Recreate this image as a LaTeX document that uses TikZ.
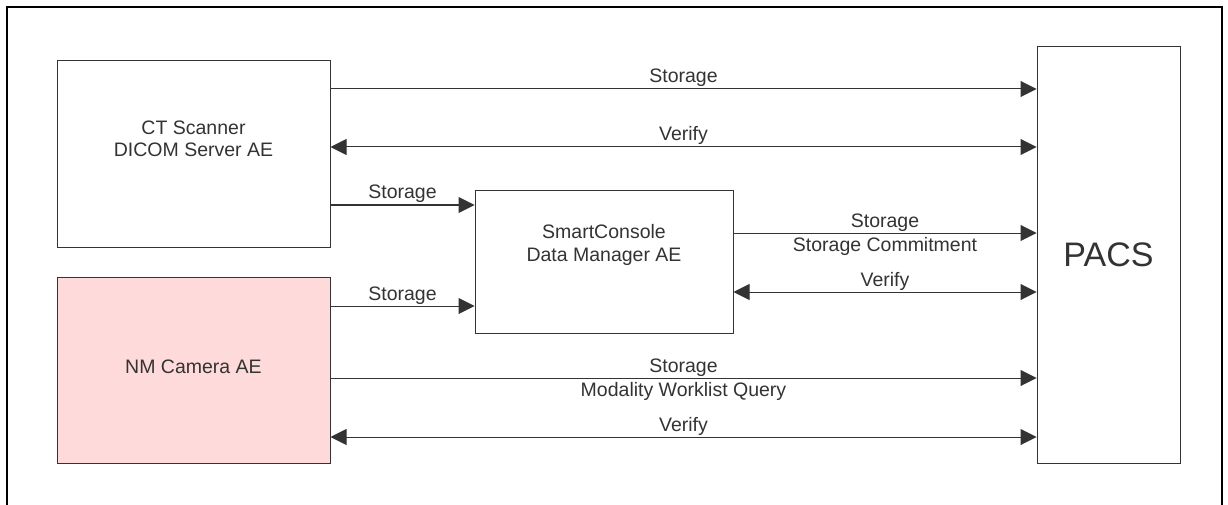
\documentclass[tikz,border=0pt]{standalone}
\usepackage{fontspec}
\setmainfont{Liberation Sans}
\usetikzlibrary{arrows.meta}
\definecolor{ffdada}{rgb}{1.,0.855,0.855}
\definecolor{uuuuuu}{rgb}{0.2,0.2,0.2}
\tikzset{
  aebox/.style={draw=uuuuuu, line width=1pt, minimum width=273pt, minimum height=186pt, inner sep=0pt},
  txt/.style={font=\fontsize{19.5}{22.5}\selectfont, align=center, text=uuuuuu},
  lblabove/.style={midway, anchor=base, yshift=6pt, txt},
  lblbelow/.style={midway, anchor=base, yshift=-18pt, txt},
}
\begin{document}
\begin{tikzpicture}[line join=miter,>={Triangle[length=16pt,width=16pt]},x=1pt,y=-1pt]
\useasboundingbox (0,0) rectangle (1228,505);
\draw[line width=2pt] (7,505) -- (7,7) -- (1222,7) -- (1222,505);
\node[aebox] (ct) at (193.5,154) {};
\node[aebox, fill=ffdada] (nm) at (193.5,370) {};
\node[aebox, minimum width=258pt, minimum height=142pt] (sc) at (604,262) {};
\node[aebox, minimum width=143pt, minimum height=416pt] (pacs) at (1108.5,255) {};
\node[txt] (cttext) at ([yshift=15pt]ct.center) {CT Scanner\\DICOM Server AE};
\node[txt] (nmtext) at ([yshift=3pt]nm.center) {NM Camera AE};
\node[txt] (sctext) at ([yshift=17pt]sc.center) {SmartConsole\\Data Manager AE};
\node[txt, font=\fontsize{34}{40}\selectfont] (pacstext) at (pacs.center) {PACS};
\draw[line width=1pt, draw=uuuuuu, ->] (ct.east |- 0,89) -- (pacs.west |- 0,89) node[lblabove] {Storage};
\draw[line width=1pt, draw=uuuuuu, <->] (ct.east |- 0,147) -- (pacs.west |- 0,147) node[lblabove] {Verify};
\draw[line width=1pt, draw=uuuuuu, ->] (ct.east |- 0,205) -- (sc.west |- 0,205) node[lblabove] {Storage};
\draw[line width=1pt, draw=uuuuuu, ->] (nm.east |- 0,306) -- (sc.west |- 0,306) node[lblabove] {Storage};
\draw[line width=1pt, draw=uuuuuu, ->] (sc.east |- 0,233) -- (pacs.west |- 0,233) node[lblabove] {Storage} node[lblbelow] {Storage Commitment};
\draw[line width=1pt, draw=uuuuuu, <->] (sc.east |- 0,292) -- (pacs.west |- 0,292) node[lblabove] {Verify};
\draw[line width=1pt, draw=uuuuuu, ->] (nm.east |- 0,378) -- (pacs.west |- 0,378) node[lblabove] {Storage} node[lblbelow] {Modality Worklist Query};
\draw[line width=1pt, draw=uuuuuu, <->] (nm.east |- 0,437) -- (pacs.west |- 0,437) node[lblabove] {Verify};
\end{tikzpicture}
\end{document}
